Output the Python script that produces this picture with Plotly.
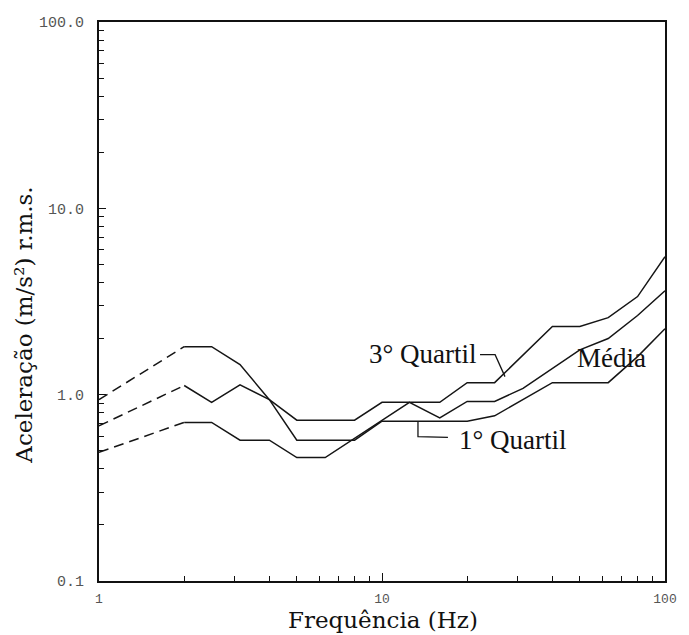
import math
import plotly.graph_objects as go

# Weighted r.m.s. acceleration spectra, values at the 1/3-octave band centres
# where each curve changes slope.  Below 2 Hz the curves are extrapolated.
freq_q3 = [1, 2, 2.5, 3.15, 4, 5, 8, 10, 16, 20, 25, 40, 50, 63, 80, 100]
acc_q3 = [0.68, 1.12, 0.91, 1.13, 0.94, 0.73, 0.73, 0.91, 0.91, 1.16, 1.16,
          2.32, 2.32, 2.59, 3.36, 5.5]

freq_media = [1, 2, 2.5, 3.15, 4, 5, 6.3, 12.5, 16, 20, 25, 31.5, 40, 50, 63, 80, 100]
acc_media = [0.49, 0.71, 0.71, 0.57, 0.57, 0.46, 0.46, 0.91, 0.75, 0.92, 0.92,
             1.08, 1.38, 1.74, 2.0, 2.66, 3.61]

freq_q1 = [1, 2, 2.5, 3.15, 4, 5, 8, 10, 20, 25, 31.5, 40, 63, 80, 100]
acc_q1 = [0.94, 1.81, 1.81, 1.45, 0.94, 0.57, 0.57, 0.72, 0.72, 0.77, 0.94,
          1.16, 1.16, 1.6, 2.26]

EXTRAP_LIMIT = 2.0  # Hz, dashed below this frequency

x_tickvals = [1, 10, 100]
x_ticktext = ["1", "10", "100"]
y_tickvals = [0.1, 1, 10, 100]
y_ticktext = ["0.1", "1.0", "10.0", "100.0"]
minor_x = [m * d for d in (1, 10) for m in range(2, 10)]
minor_y = [m * d for d in (0.1, 1, 10) for m in range(2, 10)]

LINE = "#151515"
SERIF = "Liberation Serif"
TITLE_SERIF = "DejaVu Serif, Liberation Serif, serif"
MONO = "Liberation Mono"

curves = [
    ("3° Quartil", freq_q3, acc_q3),
    ("Média", freq_media, acc_media),
    ("1° Quartil", freq_q1, acc_q1),
]

fig = go.Figure()
for name, f, a in curves:
    lo = [(fx, ax) for fx, ax in zip(f, a) if fx <= EXTRAP_LIMIT]
    hi = [(fx, ax) for fx, ax in zip(f, a) if fx >= EXTRAP_LIMIT]
    fig.add_trace(go.Scatter(
        x=[p[0] for p in lo], y=[p[1] for p in lo], mode="lines",
        line=dict(color=LINE, width=1.5, dash="10px,6px"),
        name=name, showlegend=False, hoverinfo="skip"))
    fig.add_trace(go.Scatter(
        x=[p[0] for p in hi], y=[p[1] for p in hi], mode="lines",
        line=dict(color=LINE, width=1.5),
        name=name, showlegend=False))

# leader lines from the labels to their curves
leaders = [
    ([22.2, 25.1, 27.2], [1.64, 1.64, 1.25]),
    ([13.4, 13.4, 17.1], [0.716, 0.595, 0.59]),
]
for lx, ly in leaders:
    fig.add_trace(go.Scatter(x=lx, y=ly, mode="lines",
                             line=dict(color=LINE, width=1.3),
                             showlegend=False, hoverinfo="skip"))

label_font = dict(family=SERIF, size=27, color="#111")
annotations = [
    dict(text="3° Quartil", x=math.log10(22.0), y=math.log10(1.66),
         xanchor="right", yanchor="middle"),
    dict(text="Média", x=math.log10(48.0), y=math.log10(1.58),
         xanchor="left", yanchor="middle"),
    dict(text="1° Quartil", x=math.log10(18.4), y=math.log10(0.57),
         xanchor="left", yanchor="middle"),
]
for ann in annotations:
    ann.update(xref="x", yref="y", showarrow=False, font=label_font)

title_font = dict(family=TITLE_SERIF, size=23, color="#111")
annotations += [
    dict(text="Frequência (Hz)", xref="paper", yref="paper",
         x=0.502, y=-0.07, xanchor="center", yanchor="middle",
         showarrow=False, font=title_font),
    dict(text="Aceleração (m/s²) r.m.s.", xref="paper", yref="paper",
         x=-0.133, y=0.458, xanchor="center", yanchor="middle",
         textangle=-90, showarrow=False, font=title_font),
]

axis_common = dict(
    type="log", showline=True, linecolor="#111", linewidth=2, mirror=True,
    ticks="inside", tickcolor="#111", tickwidth=1.3, showgrid=False,
    zeroline=False, tickmode="array",
)

fig.update_layout(
    width=689, height=635,
    margin=dict(l=99, r=24, t=22, b=54, autoexpand=False),
    paper_bgcolor="white", plot_bgcolor="white",
    showlegend=False,
    annotations=annotations,
    xaxis=dict(
        **axis_common, range=[0, 2], tickvals=x_tickvals, ticktext=x_ticktext,
        ticklen=8, ticklabelstandoff=4,
        tickfont=dict(family=MONO, size=13, color="#555"),
        minor=dict(tickvals=minor_x, ticks="inside", ticklen=5,
                   tickcolor="#111", tickwidth=1.2, showgrid=False),
    ),
    yaxis=dict(
        **axis_common, range=[-1, 2], tickvals=y_tickvals, ticktext=y_ticktext,
        ticklen=7, ticklabelstandoff=10,
        tickfont=dict(family=MONO, size=15, color="#555"),
        minor=dict(tickvals=minor_y, ticks="inside", ticklen=5,
                   tickcolor="#111", tickwidth=1.2, showgrid=False),
    ),
)

fig.write_html("out.html")
